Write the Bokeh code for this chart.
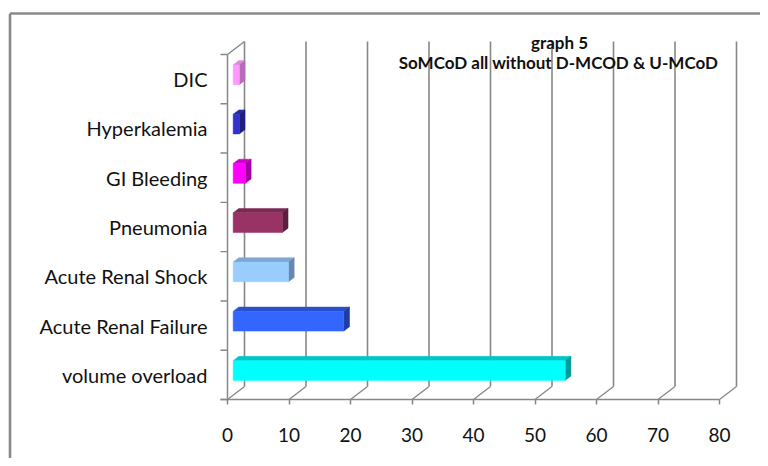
from bokeh.plotting import figure
from bokeh.models import Range1d, LinearAxis, FixedTicker, ColumnDataSource
from bokeh.core.properties import value
from bokeh.embed import file_html
from bokeh.resources import INLINE

# ---------------- data ----------------
categories = ["volume overload", "Acute Renal Failure", "Acute Renal Shock",
              "Pneumonia", "GI Bleeding", "Hyperkalemia", "DIC"]
counts = [54, 18, 9, 8, 2, 1, 1]
front_colors = ["#00FFFF", "#3366FF", "#99CCFF", "#993366", "#FF00FF", "#3333CC", "#FF99FF"]
top_colors = ["#00C6C6", "#2A50CC", "#7FA6D2", "#7A2952", "#CC00CC", "#2A2AA6", "#D98CD9"]
side_colors = ["#009A9A", "#1F3C9E", "#6688B0", "#5C1F3D", "#A000A0", "#1F1F80", "#B86BB8"]
x_ticks = [0, 10, 20, 30, 40, 50, 60, 70, 80]
title_lines = ["graph 5", "SoMCoD all without D-MCOD & U-MCoD"]

# ---------------- geometry (styling) ----------------
W, H = 760, 458
X0 = 227.0          # canvas px of value 0 on front plane
PXU = 6.15          # px per value unit
Y0 = 399.0          # canvas px of front floor
PXC = 49.286        # px per category band
DX = 17.0 / PXU     # depth offset, value units
DY = 13.0 / PXC     # depth offset, category units
BAR_H = 0.4
GRID = "#878787"
FONT = "Lato"


def cx(px):
    return (px - X0) / PXU


def cy(py):
    return -0.5 + (Y0 - py) / PXC


p = figure(width=W, height=H, output_backend="svg", toolbar_location=None,
           x_range=Range1d(cx(0), cx(W)), y_range=Range1d(cy(H), cy(0)),
           x_axis_type=None, y_axis_type=None, min_border=0)
p.outline_line_color = None
p.background_fill_color = "white"
p.border_fill_color = "white"

n = len(categories)
ymin, ymax = -0.5, n - 0.5

# chart border (top-left visible)
p.multi_line(xs=[[cx(9.5), cx(9.5)], [cx(9.5), cx(W)]],
             ys=[[cy(H), cy(13)], [cy(13), cy(13)]],
             line_color="#8a8a8a", line_width=2.6)

# back wall grid lines
p.multi_line(xs=[[t + DX, t + DX] for t in x_ticks],
             ys=[[ymin + DY, ymax + DY] for t in x_ticks],
             line_color=GRID, line_width=1.6)
# floor diagonals
p.multi_line(xs=[[t, t + DX] for t in x_ticks],
             ys=[[ymin, ymin + DY] for t in x_ticks],
             line_color=GRID, line_width=1.3)
# left wall: front vertical, top diagonal, front floor edge
p.multi_line(xs=[[0, 0], [0, DX], [-7 / PXU, x_ticks[-1]]],
             ys=[[ymin, ymax], [ymax, ymax + DY], [ymin, ymin]],
             line_color=GRID, line_width=1.5)
wall_ticks = [ymin + k for k in range(n + 1)]
p.multi_line(xs=[[-7 / PXU, 0] for _ in wall_ticks],
             ys=[[t, t] for t in wall_ticks],
             line_color=GRID, line_width=1.4)

# ---------------- 3D bars ----------------
f1x, f1y = DX / 3, DY / 3
f2x, f2y = 2 * DX / 3, 2 * DY / 3
idx = list(range(n))
front = ColumnDataSource(dict(
    left=[f1x] * n,
    right=[f1x + v for v in counts],
    bottom=[i - BAR_H / 2 + f1y for i in idx],
    top=[i + BAR_H / 2 + f1y for i in idx],
    color=front_colors))

top_xs, top_ys, side_xs, side_ys = [], [], [], []
for i, v in zip(idx, counts):
    b1, t1 = i - BAR_H / 2 + f1y, i + BAR_H / 2 + f1y
    b2, t2 = i - BAR_H / 2 + f2y, i + BAR_H / 2 + f2y
    top_xs.append([f1x, f1x + v, f2x + v, f2x])
    top_ys.append([t1, t1, t2, t2])
    side_xs.append([f1x + v, f1x + v, f2x + v, f2x + v])
    side_ys.append([b1, t1, t2, b2])

p.patches(xs=top_xs, ys=top_ys, fill_color=top_colors, line_color=top_colors, line_width=0.5)
p.patches(xs=side_xs, ys=side_ys, fill_color=side_colors, line_color=side_colors, line_width=0.5)
p.quad(left="left", right="right", bottom="bottom", top="top", source=front,
       fill_color="color", line_color="color", line_width=0.5)

# ---------------- axes ----------------
xaxis = LinearAxis(fixed_location=ymin, ticker=FixedTicker(ticks=x_ticks))
xaxis.axis_line_color = None
xaxis.major_tick_line_color = GRID
xaxis.major_tick_line_width = 1.5
xaxis.major_tick_out = 5
xaxis.major_tick_in = 0
xaxis.minor_tick_line_color = None
xaxis.major_label_text_font = FONT
xaxis.major_label_text_font_size = "19px"
xaxis.major_label_text_color = "#111111"
xaxis.major_label_standoff = 23
p.add_layout(xaxis, "below")

yaxis = LinearAxis(fixed_location=0, ticker=FixedTicker(ticks=idx))
yaxis.major_label_overrides = {i: c for i, c in zip(idx, categories)}
yaxis.axis_line_color = None
yaxis.major_tick_line_color = None
yaxis.minor_tick_line_color = None
yaxis.major_tick_out = 0
yaxis.major_tick_in = 0
yaxis.major_label_text_font = FONT
yaxis.major_label_text_font_size = "20px"
yaxis.major_label_text_color = "#111111"
yaxis.major_label_standoff = 20
p.add_layout(yaxis, "left")

# ---------------- title ----------------
p.text(x=[cx(559), cx(558)], y=[cy(42), cy(62)], text=title_lines,
       text_font=value(FONT), text_font_style="bold", text_font_size="17px",
       text_align="center", text_baseline="middle", text_color="#111111")

open("out.html", "w").write(file_html(p, INLINE))
